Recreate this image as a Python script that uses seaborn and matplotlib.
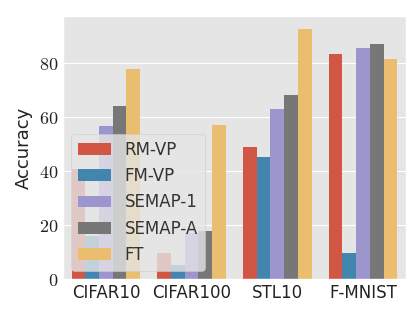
import pandas as pd
import numpy as np
import matplotlib
matplotlib.use('Agg')
import matplotlib.pyplot as plt
import seaborn as sns

# data
datasets = ['CIFAR10', 'CIFAR100', 'STL10', 'F-MNIST']
methods = ['RM-VP', 'FM-VP', 'SEMAP-1', 'SEMAP-A', 'FT']
rm_vp = [40.7, 9.5, 48.8, 83.5]
fm_vp = [16.0, 5.2, 45.3, 9.5]
semap_1 = [56.7, 16.9, 62.8, 85.7]
semap_a = [64.0, 17.6, 68.1, 87.0]
ft = [77.9, 57.0, 92.8, 81.6]

colors = ['#E24A33', '#348ABD', '#988ED5', '#777777', '#FBC15E']

rows = []
for m, vals in zip(methods, [rm_vp, fm_vp, semap_1, semap_a, ft]):
    for d, v in zip(datasets, vals):
        rows.append({'Dataset': d, 'Method': m, 'Accuracy': v})
df = pd.DataFrame(rows)

plt.style.use('ggplot')
plt.rcParams['mathtext.fontset'] = 'cm'

fig, ax = plt.subplots(figsize=(4.15, 3.11), dpi=100)
sns.barplot(data=df, x='Dataset', y='Accuracy', hue='Method',
            hue_order=methods, order=datasets, palette=colors,
            width=0.8, ax=ax, saturation=0.8)

ax.grid(False, axis='x')
ax.set_xlabel('')
ax.set_ylabel('Accuracy', fontsize=13, color='#222222')
yt = [0, 20, 40, 60, 80]
ax.set_yticks(yt)
ax.set_yticklabels([f'${t}$' for t in yt], fontsize=13)
ax.tick_params(axis='x', labelsize=12, colors='#222222', length=0)
ax.tick_params(axis='y', colors='#222222', length=0)
ax.set_ylim(0, 97.5)
leg = ax.legend(loc='lower left', fontsize=12, framealpha=0.8)
for t in leg.get_texts():
    t.set_color('#333333')

fig.subplots_adjust(left=0.152, right=0.978, top=0.949, bottom=0.103)
plt.savefig('out.png', dpi=100)
